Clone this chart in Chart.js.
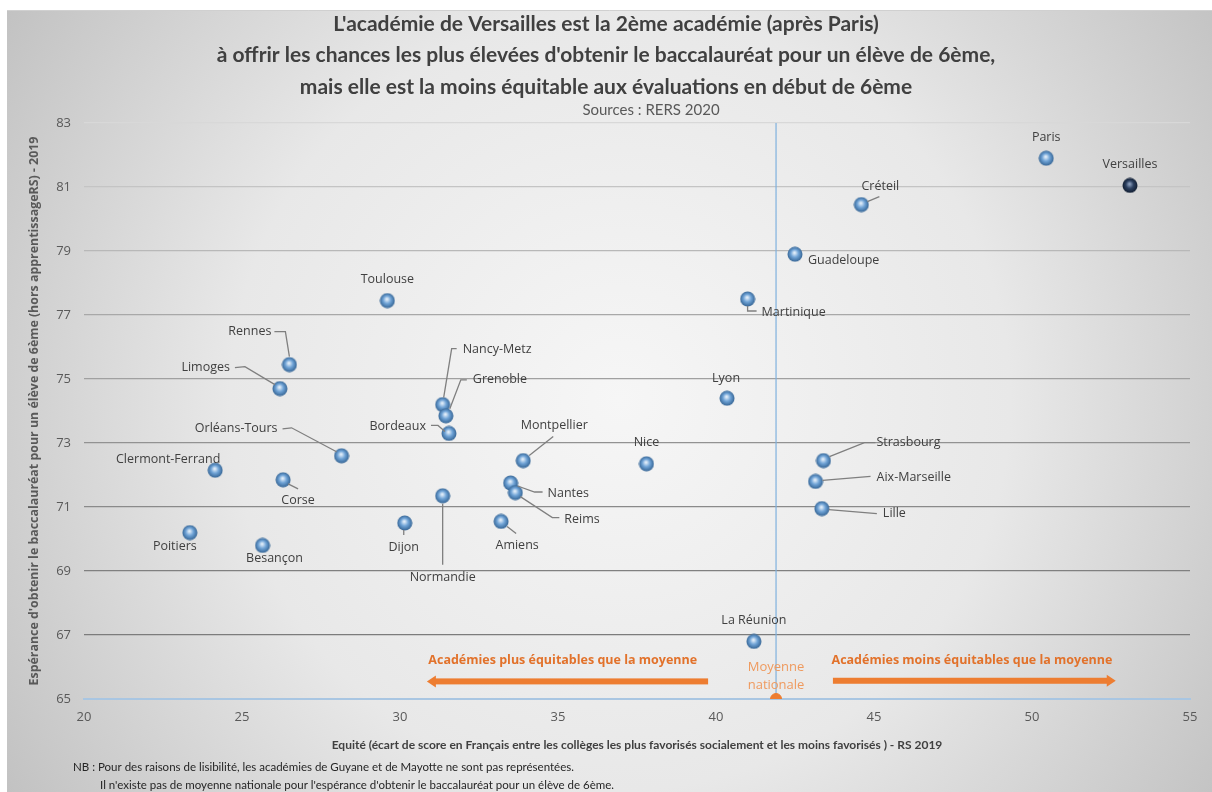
<!DOCTYPE html>
<html>
<head>
<meta charset="utf-8">
<script src="https://cdn.jsdelivr.net/npm/chart.js"></script>
<style>
  html, body { margin: 0; padding: 0; background: #fff; }
  #wrap { position: relative; width: 1212px; height: 792px; }
</style>
</head>
<body>
<div id="wrap"><canvas id="scatter" width="1212" height="792"></canvas></div>
<script>
// values
const academies = ["Paris","Versailles","Créteil","Guadeloupe","Martinique","Toulouse","Rennes","Limoges",
  "Nancy-Metz","Grenoble","Bordeaux","Montpellier","Nice","Lyon","Nantes","Reims","Normandie","Amiens",
  "Dijon","Orléans-Tours","Clermont-Ferrand","Corse","Poitiers","Besançon","Strasbourg","Aix-Marseille",
  "Lille","La Réunion"];
const equite = [50.45, 53.1, 44.6, 42.5, 41.0, 29.6, 26.5, 26.2,
  31.35, 31.45, 31.55, 33.9, 37.8, 40.35, 33.5, 33.65, 31.35, 33.2,
  30.15, 28.15, 24.15, 26.3, 23.35, 25.65, 43.4, 43.15,
  43.35, 41.2];
const esperance = [81.9, 81.05, 80.45, 78.9, 77.5, 77.45, 75.45, 74.7,
  74.2, 73.85, 73.3, 72.45, 72.35, 74.4, 71.75, 71.45, 71.35, 70.55,
  70.5, 72.6, 72.15, 71.85, 70.2, 69.8, 72.45, 71.8,
  70.95, 66.8];
const moyenneNationale = 41.9;
const xMin = 20, xMax = 55, xStep = 5;
const yMin = 65, yMax = 83, yStep = 2;

const titleLines = [
  "L'académie de Versailles est la 2ème académie (après Paris)",
  "à offrir les chances les plus élevées d'obtenir le baccalauréat pour un élève de 6ème,",
  "mais elle est la moins équitable aux évaluations en début de 6ème"
];
const sourceText = "Sources : RERS 2020";
const notes = [
  "NB : Pour des raisons de lisibilité, les académies de Guyane et de Mayotte ne sont pas représentées.",
  "Il n'existe pas de moyenne nationale pour l'espérance d'obtenir le baccalauréat pour un élève de 6ème."
];

// label placement (pixel offsets from the marker) and leader lines
const labelPos = {
  "Paris": { dx: 0, dy: -21 },
  "Versailles": { dx: 0, dy: -21 },
  "Créteil": { dx: 19, dy: -18, path: [[6,-3],[18,-8]] },
  "Guadeloupe": { dx: 13, dy: 6, align: "left" },
  "Martinique": { dx: 14, dy: 13, align: "left", path: [[0,7],[0,12],[9,12]] },
  "Toulouse": { dx: 0, dy: -21 },
  "Rennes": { dx: -18, dy: -33, align: "right", path: [[-15,-33],[-4,-33],[0,-8]] },
  "Limoges": { dx: -50, dy: -21, align: "right", path: [[-45,-21],[-35,-22],[-5,-4]] },
  "Nancy-Metz": { dx: 20, dy: -55, align: "left", path: [[14,-56],[9,-56],[1,-7]] },
  "Grenoble": { dx: 27, dy: -36, align: "left", path: [[21,-36],[15,-36],[4,-7]] },
  "Bordeaux": { dx: -23, dy: -7, align: "right", path: [[-18,-8],[-11,-8],[-4,-2]] },
  "Montpellier": { dx: 31, dy: -35, path: [[30,-24],[6,-5]] },
  "Nice": { dx: 0, dy: -21 },
  "Lyon": { dx: -1, dy: -20 },
  "Nantes": { dx: 37, dy: 10, align: "left", path: [[7,3],[24,9],[32,9]] },
  "Reims": { dx: 49, dy: 27, align: "left", path: [[5,4],[37,25],[44,25]] },
  "Normandie": { dx: 0, dy: 82, path: [[0,8],[0,69]] },
  "Amiens": { dx: 16, dy: 24, path: [[6,5],[15,12]] },
  "Dijon": { dx: -1, dy: 24, path: [[-1,7],[-1,12]] },
  "Orléans-Tours": { dx: -64, dy: -27, align: "right", path: [[-59,-27],[-50,-28],[-5,-4]] },
  "Clermont-Ferrand": { dx: -47, dy: -11 },
  "Corse": { dx: 15, dy: 21, path: [[5,4],[15,9]] },
  "Poitiers": { dx: -15, dy: 14 },
  "Besançon": { dx: 12, dy: 13 },
  "Strasbourg": { dx: 53, dy: -18, align: "left", path: [[6,-4],[41,-18],[52,-18]] },
  "Aix-Marseille": { dx: 61, dy: -4, align: "left", path: [[7,-1],[55,-5]] },
  "Lille": { dx: 61, dy: 5, align: "left", path: [[7,1],[55,5]] },
  "La Réunion": { dx: 0, dy: -21 }
};

const ORANGE = "#ed7d31";
const LABEL_FONT = "12.5px 'Open Sans'";
const NARROW = "Lato";

function sphere(c0, c1, c2) {
  const s = document.createElement("canvas");
  s.width = s.height = 16;
  const g = s.getContext("2d");
  const gr = g.createRadialGradient(7.5, 6.5, 0.5, 8, 8, 8);
  gr.addColorStop(0, c0);
  gr.addColorStop(0.45, c1);
  gr.addColorStop(1, c2);
  g.fillStyle = gr;
  g.beginPath();
  g.arc(8, 8, 7.5, 0, Math.PI * 2);
  g.fill();
  return s;
}
const blueBall = sphere("#e4effa", "#6fa3d6", "#2f5e8e");
const darkBall = sphere("#8c9fbd", "#2c4060", "#0e1a2c");

const background = {
  id: "background",
  beforeDraw(chart) {
    const ctx = chart.ctx;
    ctx.save();
    const g = ctx.createRadialGradient(620, 400, 0, 620, 400, 780);
    g.addColorStop(0, "#f6f6f6");
    g.addColorStop(0.5, "#e8e8e8");
    g.addColorStop(1, "#bcbcbc");
    ctx.fillStyle = g;
    ctx.fillRect(7, 10, 1205, 782);
    ctx.strokeStyle = "#d0d0d0";
    ctx.beginPath(); ctx.moveTo(7, 10.5); ctx.lineTo(1212, 10.5); ctx.stroke();
    ctx.restore();
  }
};

const texts = {
  id: "texts",
  afterDraw(chart) {
    const ctx = chart.ctx;
    ctx.save();
    ctx.textAlign = "center";
    ctx.textBaseline = "middle";
    ctx.fillStyle = "#404040";
    ctx.font = "bold 21px " + NARROW;
    titleLines.forEach((t, i) => ctx.fillText(t, 606, 24 + i * 31.5));
    ctx.font = "15px " + NARROW;
    ctx.fillStyle = "#595959";
    ctx.fillText(sourceText, 651, 110);
    ctx.textAlign = "left";
    ctx.font = "11.5px " + NARROW;
    ctx.fillStyle = "#262626";
    ctx.fillText(notes[0], 73, 767);
    ctx.fillText(notes[1], 100, 785);
    ctx.restore();
  }
};

const annotations = {
  id: "annotations",
  afterDatasetsDraw(chart) {
    const ctx = chart.ctx;
    const xs = chart.scales.x, ys = chart.scales.y;
    ctx.save();
    // labels with leader lines
    const meta = chart.getDatasetMeta(0);
    ctx.font = LABEL_FONT;
    ctx.textBaseline = "middle";
    meta.data.forEach((pt, i) => {
      const p = labelPos[academies[i]];
      if (!p) return;
      if (p.path) {
        ctx.strokeStyle = "#7f7f7f";
        ctx.lineWidth = 1.3;
        ctx.beginPath();
        p.path.forEach(([dx, dy], k) => k ? ctx.lineTo(pt.x + dx, pt.y + dy) : ctx.moveTo(pt.x + dx, pt.y + dy));
        ctx.stroke();
      }
      ctx.fillStyle = "#404040";
      ctx.textAlign = p.align || "center";
      ctx.fillText(academies[i], pt.x + p.dx, pt.y + p.dy);
    });

    // arrows
    const arrow = (x0, x1, y) => {
      const a = xs.getPixelForValue(x0), b = xs.getPixelForValue(x1), py = ys.getPixelForValue(y);
      const dir = Math.sign(b - a);
      ctx.fillStyle = ORANGE;
      ctx.fillRect(Math.min(a, b - dir * 8), py - 3, Math.abs(b - dir * 8 - a), 6);
      ctx.beginPath();
      ctx.moveTo(b, py);
      ctx.lineTo(b - dir * 9, py - 6);
      ctx.lineTo(b - dir * 9, py + 6);
      ctx.closePath();
      ctx.fill();
    };
    arrow(39.75, 30.85, 65.55);
    arrow(43.7, 52.65, 65.57);
    ctx.font = "bold 12.5px 'Open Sans'";
    ctx.fillStyle = "#e2722b";
    ctx.textAlign = "center";
    ctx.fillText("Académies plus équitables que la moyenne", xs.getPixelForValue(35.15), ys.getPixelForValue(66.22));
    ctx.fillText("Académies moins équitables que la moyenne", xs.getPixelForValue(48.1), ys.getPixelForValue(66.22));
    ctx.font = "13px 'Open Sans'";
    ctx.fillStyle = "#ef9a5e";
    const mx = xs.getPixelForValue(moyenneNationale);
    ctx.fillText("Moyenne", mx, ys.getPixelForValue(65.99));
    ctx.fillText("nationale", mx, ys.getPixelForValue(65.42));
    ctx.restore();
  }
};

const gridColors = { 83: "#d8d8d8", 81: "#c4c4c4", 79: "#b8b8b8", 77: "#a8a8a8", 75: "#a0a0a0",
  73: "#929292", 71: "#8a8a8a", 69: "#808080", 67: "#7c7c7c" };

new Chart(document.getElementById("scatter"), {
  type: "scatter",
  data: {
    datasets: [
      {
        label: "Académies",
        data: academies.map((a, i) => ({ x: equite[i], y: esperance[i] })),
        pointStyle: academies.map(a => a === "Versailles" ? darkBall : blueBall),
        order: 1
      },
      {
        type: "line",
        label: "Moyenne",
        data: [{ x: moyenneNationale, y: yMin }, { x: moyenneNationale, y: yMax }],
        borderColor: "#7fb0de",
        borderWidth: 1.2,
        pointRadius: 0,
        order: 3
      },
      {
        label: "Moyenne nationale",
        data: [{ x: moyenneNationale, y: yMin }],
        pointStyle: "circle",
        pointRadius: 5.5,
        backgroundColor: ORANGE,
        borderColor: ORANGE,
        order: 0
      }
    ]
  },
  options: {
    responsive: false,
    animation: false,
    devicePixelRatio: 1,
    events: [],
    layout: { padding: { top: 123, left: 0, right: 22, bottom: 40 } },
    plugins: {
      legend: { display: false },
      tooltip: { enabled: false }
    },
    scales: {
      x: {
        type: "linear",
        min: xMin, max: xMax,
        afterFit: s => { s.height = 53; },
        ticks: { stepSize: xStep, padding: 10, color: "#595959", font: { family: "'Open Sans'", size: 13 } },
        grid: { display: false, drawTicks: false },
        border: { display: true, color: "#a9c6e2", width: 2 },
        title: {
          display: true,
          text: "Equité (écart de score en Français entre les collèges les plus favorisés socialement et les moins favorisés ) - RS 2019",
          color: "#404040",
          font: { family: NARROW, size: 12, weight: "bold" },
          padding: { top: 0, bottom: 0 }
        }
      },
      y: {
        type: "linear",
        min: yMin, max: yMax,
        afterFit: s => { s.width = 84; },
        ticks: { stepSize: yStep, padding: 13, color: "#595959", font: { family: "'Open Sans'", size: 13 } },
        grid: {
          drawTicks: false,
          color: c => gridColors[c.tick.value] || "rgba(0,0,0,0)",
          lineWidth: 1.3
        },
        border: { display: false },
        title: {
          display: true,
          text: "Espérance d'obtenir le baccalauréat pour un élève de 6ème (hors apprentissageRS) - 2019",
          color: "#595959",
          font: { family: "'Open Sans'", size: 12.4, weight: "bold" },
          padding: { top: 27, bottom: 0 }
        }
      }
    }
  },
  plugins: [background, annotations, texts]
});
</script>
</body>
</html>
